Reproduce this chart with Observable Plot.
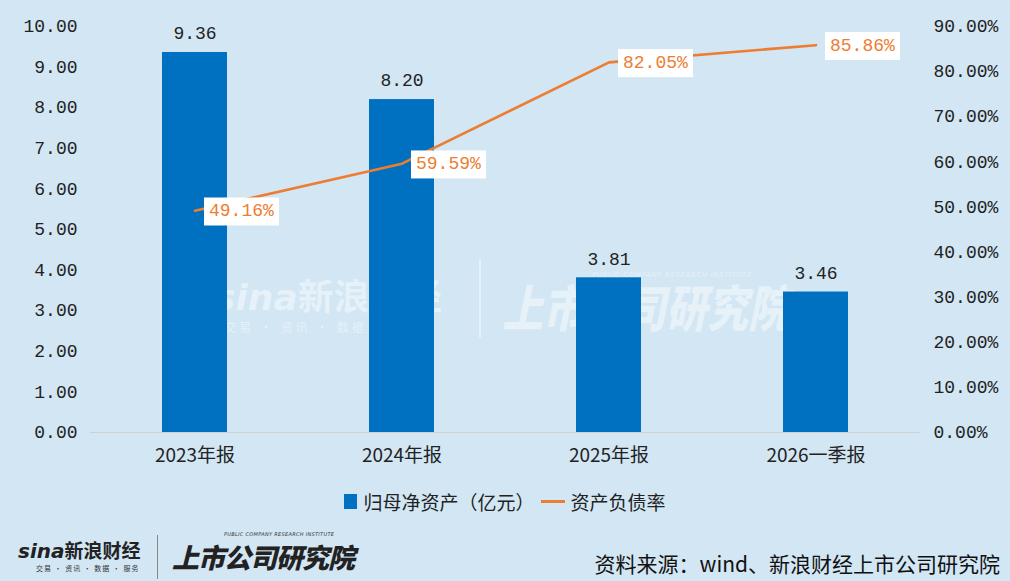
<!DOCTYPE html>
<html>
<head>
<meta charset="utf-8">
<script src="https://cdn.jsdelivr.net/npm/d3@7"></script>
<script src="https://cdn.jsdelivr.net/npm/@observablehq/plot@0.6"></script>
<style>
  html, body { margin: 0; padding: 0; background: #d2e6f4; }
  #wrap { position: relative; width: 1010px; height: 581px; background: #d2e6f4; overflow: hidden; font-family: "Noto Sans CJK SC", sans-serif; }
  #chart { position: absolute; left: 0; top: 0; z-index: 2; }
  .legend { position: absolute; top: 488px; left: 0; width: 1010px; display: flex; justify-content: center; align-items: center; font-size: 19px; color: #222; }
  .legend .sw { display: inline-block; width: 13px; height: 15px; background: #0070c0; margin-right: 6px; }
  .legend .ln { display: inline-block; width: 24px; height: 3px; background: #ed7d31; margin: 0 6px 0 6px; }
  .source { position: absolute; right: 10px; top: 548px; font-size: 21px; color: #111; }
  .abs { position: absolute; line-height: 1; white-space: nowrap; }
  .wm { position: absolute; color: #ffffff; opacity: 0.45; pointer-events: none; line-height: 1; white-space: nowrap; z-index: 1; }
</style>
</head>
<body>
<div id="wrap">
  <div class="wm" style="left:214px; top:276px; font-size:36px; font-weight:700;"><i style="font-family:'DejaVu Sans'">sina</i>新浪财经</div>
  <div class="wm" style="left:224px; top:321px; font-size:12px; letter-spacing:3px;">交易 · 资讯 · 数据 · 服务</div>
  <div class="wm" style="left:479px; top:260px; width:2px; height:78px; background:#fff;"></div>
  <div class="wm" style="left:592px; top:272px; font-size:7px; font-style:italic; font-family:'DejaVu Sans'; letter-spacing:0.6px;">PUBLIC COMPANY RESEARCH INSTITUTE</div>
  <div class="wm" style="left:502px; top:280px; font-size:50px; font-weight:900; font-style:italic; transform-origin:left top; transform:scaleX(0.82);">上市公司研究院</div>
  <div id="chart"></div>
  <div class="legend">
    <span class="sw"></span><span>归母净资产（亿元）</span><span class="ln"></span><span>资产负债率</span>
  </div>
  <div class="abs" style="left:18px; top:540px; font-size:19px; font-weight:700; color:#222;"><i style="font-family:'DejaVu Sans'; font-size:20px;">sina</i>新浪财经</div>
  <div class="abs" style="left:36px; top:565px; font-size:7px; letter-spacing:1px; color:#333;">交易 · 资讯 · 数据 · 服务</div>
  <div class="abs" style="left:157px; top:535px; width:1px; height:44px; background:#888;"></div>
  <div class="abs" style="left:224px; top:532px; font-size:5px; font-style:italic; font-family:'DejaVu Sans'; letter-spacing:0.3px; color:#333;">PUBLIC COMPANY RESEARCH INSTITUTE</div>
  <div class="abs" style="left:172px; top:543px; font-size:27px; font-weight:900; font-style:italic; letter-spacing:-1px; color:#222;">上市公司研究院</div>
  <div class="source">资料来源：wind、新浪财经上市公司研究院</div>
</div>
<script>
const categories = ["2023年报", "2024年报", "2025年报", "2026一季报"];
const equity = [9.36, 8.20, 3.81, 3.46];          // 归母净资产（亿元）
const debtRatio = [49.16, 59.59, 82.05, 85.86];    // 资产负债率 (%)
const leftTicks = [0,1,2,3,4,5,6,7,8,9,10];
const rightTicks = [0,10,20,30,40,50,60,70,80,90];

const leftMax = 10, rightMax = 90;
const toLeft = v => v / rightMax * leftMax;

const data = categories.map((c, i) => ({cat: c, equity: equity[i], rate: debtRatio[i]}));

const numFont = "'Liberation Mono', 'DejaVu Sans Mono', monospace";

const chart = Plot.plot({
  width: 1010,
  height: 475,
  marginTop: 26,
  marginBottom: 43,
  marginLeft: 90,
  marginRight: 90,
  style: {background: "transparent", fontFamily: "'Noto Sans CJK SC', sans-serif", color: "#222"},
  x: {domain: categories, padding: 0, label: null},
  y: {domain: [0, leftMax], label: null},
  marks: [
    Plot.ruleY([0], {stroke: "#d0d0d0", strokeWidth: 1.2}),
    Plot.barY(data, {x: "cat", y: "equity", fill: "#0070c0", insetLeft: 71, insetRight: 71}),
    Plot.text(data, {x: "cat", y: "equity", text: d => d3.format(".2f")(d.equity), dy: -19, fontSize: 18, fill: "#222", fontFamily: numFont}),
    Plot.line(data, {x: "cat", y: d => toLeft(d.rate), stroke: "#ed7d31", strokeWidth: 2.6, curve: "linear"}),
    Plot.text(data, {x: "cat", y: d => toLeft(d.rate), text: d => d3.format(".2f")(d.rate) + "%", dx: 14, textAnchor: "start", fontSize: 18, fill: "#ed7d31", fontFamily: numFont, className: "rate-label"}),
    Plot.axisX({tickSize: 0, tickPadding: 16, fontSize: 19, label: null}),
    Plot.axisY(leftTicks, {anchor: "left", tickSize: 0, tickPadding: 13, tickFormat: d3.format(".2f"), fontSize: 18, fontFamily: numFont, label: null}),
    Plot.axisY(rightTicks.map(toLeft), {anchor: "right", tickSize: 0, tickPadding: 13, tickFormat: (d, i) => d3.format(".2f")(rightTicks[i]) + "%", fontSize: 18, fontFamily: numFont, label: null})
  ]
});
document.getElementById("chart").appendChild(chart);

// white boxes behind the ratio labels
const svg = d3.select(chart);
svg.selectAll("g.rate-label").each(function() {
  const g = this;
  d3.select(g).selectAll("text").each(function() {
    const b = this.getBBox();
    const ctm = this.getAttribute("transform");
    const r = document.createElementNS("http://www.w3.org/2000/svg", "rect");
    r.setAttribute("x", b.x - 5);
    r.setAttribute("y", b.y - 4);
    r.setAttribute("width", b.width + 10);
    r.setAttribute("height", b.height + 8);
    r.setAttribute("fill", "#ffffff");
    if (ctm) r.setAttribute("transform", ctm);
    g.insertBefore(r, this);
  });
});
</script>
</body>
</html>
